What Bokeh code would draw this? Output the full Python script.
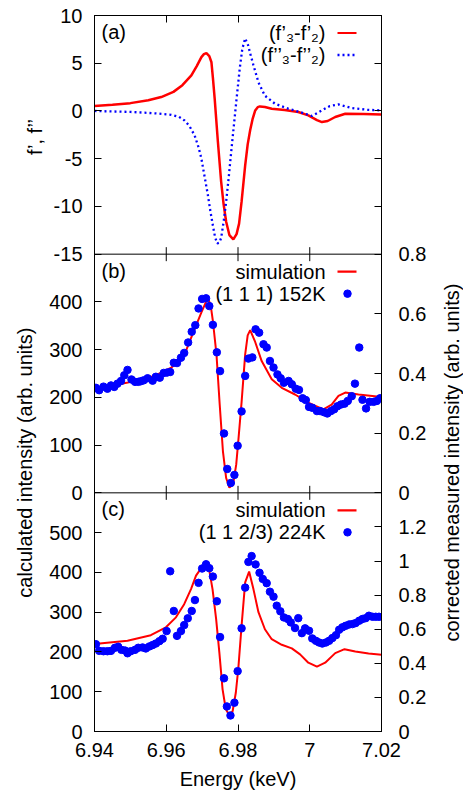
import math
from bokeh.plotting import figure
from bokeh.layouts import row
from bokeh.models import Range1d, LinearAxis, FixedTicker, Label, Span
from bokeh.embed import file_html
from bokeh.resources import INLINE

# ---------------- data ----------------
# panel (a): f' and f'' differences
E_fp = [6.940, 6.945, 6.950, 6.955, 6.9586, 6.962, 6.9645, 6.967, 6.9685, 6.9698,
        6.9705, 6.9712, 6.9720, 6.9726, 6.9730, 6.9735, 6.9744, 6.9753, 6.9760, 6.9767,
        6.9776, 6.9787, 6.9796, 6.9803, 6.9810, 6.9820, 6.9827, 6.9834, 6.9841, 6.9848,
        6.9855, 6.9861, 6.9875, 6.9894, 6.9930, 6.9968, 6.9996, 7.0020, 7.0034, 7.0050,
        7.0071, 7.0099, 7.0150, 7.0200]
fp = [0.52, 0.65, 0.82, 1.12, 1.46, 2.0, 2.7, 3.72, 4.7, 5.64,
      5.95, 6.06, 5.75, 5.1, 3.5, 1.3, -3.25, -7.4, -9.8, -11.6,
      -13.0, -13.45, -12.9, -11.8, -9.5, -5.7, -3.5, -2.0, -0.8, 0.05,
      0.4, 0.48, 0.42, 0.24, 0.10, -0.11, -0.46, -0.95, -1.16, -1.05,
      -0.63, -0.29, -0.32, -0.36]

E_fpp = [6.940, 6.945, 6.950, 6.954, 6.958, 6.9614, 6.9635, 6.9651, 6.9665, 6.9679,
         6.9690, 6.9698, 6.9707, 6.9716, 6.9723, 6.9730, 6.9736, 6.9742, 6.9748, 6.9753,
         6.9760, 6.9767, 6.9774, 6.9781, 6.9788, 6.9795, 6.9805, 6.9812, 6.9820, 6.9828,
         6.9835, 6.9843, 6.9857, 6.9875, 6.9903, 6.9940, 6.9978, 7.0006, 7.0034, 7.0055,
         7.0080, 7.0117, 7.0160, 7.0200]
fpp = [0.0, -0.05, -0.1, -0.18, -0.28, -0.4, -0.6, -1.0, -1.6, -2.55,
       -3.8, -5.0, -6.9, -8.8, -10.5, -12.0, -13.2, -13.88, -13.8, -13.3,
       -11.6, -9.5, -7.0, -4.3, -1.7, 0.9, 4.5, 6.5, 7.6, 6.9,
       5.9, 4.8, 3.0, 1.6, 0.76, 0.24, -0.18, -0.53, 0.06, 0.5,
       0.69, 0.31, 0.12, 0.06]

# panel (b): simulation (left axis) and (1 1 1) 152K data (right axis)
E_bs = [6.940, 6.9493, 6.9567, 6.9614, 6.9651, 6.9679, 6.9698, 6.9712, 6.9718, 6.9724,
        6.9730, 6.9740, 6.9749, 6.9758, 6.9767, 6.9776, 6.9786, 6.9795, 6.9801, 6.9810,
        6.9820, 6.9827, 6.9834, 6.9847, 6.9866, 6.9894, 6.9922, 6.9959, 6.9996, 7.0038,
        7.0061, 7.0080, 7.0099, 7.0136, 7.0200]
sim_b = [217, 231, 245, 262, 290, 343, 378, 402, 405, 392,
         360, 290, 185, 87, 31, 11, 17, 59, 110, 190,
         290, 330, 341, 318, 276, 238, 220, 206, 189, 175,
         185, 203, 210, 206, 201]

E_bd = [6.9404, 6.9413, 6.9425, 6.9436, 6.9446, 6.9455, 6.9464, 6.9474, 6.9483, 6.9492,
        6.9503, 6.9513, 6.9522, 6.9529, 6.9537, 6.9548, 6.9562, 6.9571, 6.9582, 6.9593,
        6.9602, 6.9611, 6.9621, 6.9630, 6.9641, 6.9650, 6.9661, 6.9671, 6.9681, 6.9690,
        6.9700, 6.9711, 6.9720, 6.9730, 6.9741, 6.9750, 6.9761, 6.9770, 6.9780, 6.9790,
        6.9799, 6.9810, 6.9820, 6.9829, 6.9840, 6.9849, 6.9859, 6.9871, 6.9880, 6.9889,
        6.9899, 6.9910, 6.9919, 6.9928, 6.9941, 6.9950, 6.9961, 6.9970, 6.9980, 6.9989,
        6.9998, 7.0007, 7.0020, 7.0029, 7.0040, 7.0049, 7.0059, 7.0068, 7.0077, 7.0087,
        7.0097, 7.0106, 7.0117, 7.0126, 7.0138, 7.0147, 7.0157, 7.0167, 7.0178, 7.0187,
        7.0196]
meas_b = [0.352, 0.344, 0.356, 0.349, 0.360, 0.355, 0.366, 0.375, 0.394, 0.412,
          0.380, 0.372, 0.372, 0.374, 0.377, 0.384, 0.376, 0.389, 0.386, 0.402,
          0.403, 0.405, 0.436, 0.435, 0.453, 0.469, 0.504, 0.540, 0.562, 0.618,
          0.650, 0.652, 0.626, 0.563, 0.471, 0.408, 0.199, 0.080, 0.033, 0.060,
          0.158, 0.273, 0.392, 0.450, 0.454, 0.548, 0.537, 0.498, 0.487, 0.442,
          0.420, 0.397, 0.384, 0.369, 0.375, 0.364, 0.349, 0.345, 0.317, 0.311,
          0.288, 0.285, 0.274, 0.274, 0.270, 0.266, 0.274, 0.280, 0.290, 0.296,
          0.299, 0.308, 0.324, 0.366, 0.487, 0.312, 0.283, 0.305, 0.305, 0.308,
          0.317]

# panel (c): simulation (left axis) and (1 1 2/3) 224K data (right axis)
E_cs = [6.940, 6.9492, 6.9557, 6.9599, 6.9627, 6.9650, 6.9669, 6.9683, 6.9697, 6.9711,
        6.9720, 6.9729, 6.9739, 6.9748, 6.9757, 6.9766, 6.9776, 6.9785, 6.9794, 6.9801,
        6.9810, 6.9820, 6.9831, 6.9843, 6.9857, 6.9875, 6.9894, 6.9922, 6.9950, 6.9973,
        6.9996, 7.0020, 7.0043, 7.0071, 7.0097, 7.0127, 7.0164, 7.0200]
sim_c = [220, 228, 242, 262, 287, 320, 358, 392, 410, 419,
         405, 358, 283, 199, 106, 56, 41, 51, 98, 160,
         266, 375, 402, 358, 300, 257, 232, 218, 209, 194,
         173, 163, 173, 197, 207, 201, 196, 193]

E_cd = [6.9404, 6.9413, 6.9425, 6.9436, 6.9446, 6.9457, 6.9466, 6.9475, 6.9485, 6.9492,
        6.9501, 6.9513, 6.9522, 6.9534, 6.9543, 6.9553, 6.9562, 6.9571, 6.9581, 6.9590,
        6.9601, 6.9611, 6.9621, 6.9630, 6.9641, 6.9650, 6.9660, 6.9671, 6.9680, 6.9690,
        6.9700, 6.9711, 6.9720, 6.9730, 6.9741, 6.9750, 6.9761, 6.9769, 6.9779, 6.9790,
        6.9799, 6.9810, 6.9820, 6.9829, 6.9838, 6.9849, 6.9860, 6.9869, 6.9880, 6.9889,
        6.9899, 6.9908, 6.9918, 6.9928, 6.9939, 6.9947, 6.9959, 6.9968, 6.9978, 6.9987,
        6.9998, 7.0007, 7.0017, 7.0026, 7.0035, 7.0045, 7.0054, 7.0063, 7.0073, 7.0082,
        7.0091, 7.0100, 7.0110, 7.0119, 7.0128, 7.0138, 7.0147, 7.0156, 7.0165, 7.0175,
        7.0184, 7.0193, 7.0203]
meas_c = [0.512, 0.473, 0.471, 0.471, 0.473, 0.491, 0.497, 0.479, 0.475, 0.459,
          0.471, 0.479, 0.491, 0.493, 0.487, 0.499, 0.507, 0.516, 0.530, 0.544,
          0.589, 0.940, 0.707, 0.561, 0.589, 0.624, 0.664, 0.707, 0.771, 0.872,
          0.956, 0.981, 0.958, 0.909, 0.764, 0.554, 0.312, 0.147, 0.094, 0.169,
          0.354, 0.605, 0.844, 0.995, 1.029, 0.980, 0.931, 0.895, 0.870, 0.820,
          0.791, 0.738, 0.705, 0.669, 0.660, 0.640, 0.607, 0.665, 0.577, 0.605,
          0.591, 0.546, 0.532, 0.522, 0.516, 0.522, 0.532, 0.548, 0.565, 0.597,
          0.611, 0.620, 0.628, 0.630, 0.636, 0.650, 0.660, 0.665, 0.679, 0.673,
          0.673, 0.673, 0.673]

# axes / ticks
X_RANGE = (6.94, 7.02)
X_TICKS = [6.94, 6.96, 6.98, 7.00, 7.02]
X_TICK_LABELS = ["6.94", "6.96", "6.98", "7", "7.02"]
A_RANGE = (-15, 10)
A_TICKS = [10, 5, 0, -5, -10, -15]
A_LABELS = ["10", "5", "0", "-5", "-10", "-15"]
B_RANGE = (0, 500)
B_TICKS = [0, 100, 200, 300, 400]
B_LABELS = ["0", "100", "200", "300", "400"]
BR_RANGE = (0, 0.8)
BR_TICKS = [0, 0.2, 0.4, 0.6, 0.8]
BR_LABELS = ["0", "0.2", "0.4", "0.6", "0.8"]
C_RANGE = (0, 600)
C_TICKS = [0, 100, 200, 300, 400, 500]
C_LABELS = ["0", "100", "200", "300", "400", "500"]
CR_RANGE = (0, 1.4)
CR_TICKS = [0, 0.2, 0.4, 0.6, 0.8, 1.0, 1.2]
CR_LABELS = ["0", "0.2", "0.4", "0.6", "0.8", "1", "1.2"]

assert len(E_fp) == len(fp) and len(E_fpp) == len(fpp)
assert len(E_bs) == len(sim_b) and len(E_bd) == len(meas_b)
assert len(E_cs) == len(sim_c) and len(E_cd) == len(meas_c)

# ---------------- layout ----------------
FONT = "Liberation Sans"
FS = "20px"
RED = "#ff0000"
BLUE = "#0000ff"
H = 792
LW_SIDE, RW_SIDE = 46, 38          # side strips holding the rotated axis titles
ML, MR, MT = 46, 46, 15            # borders of the main plot
FW, FH = 287, 716
MB = H - MT - FH
PH = FH / 3.0


def stacked(rng, slot):
    lo, hi = rng
    span = hi - lo
    return Range1d(start=lo - slot * span, end=hi + (2 - slot) * span)


def spos(v, rng, slot):
    lo, hi = rng
    return slot + (v - lo) / (hi - lo)


p = figure(frame_width=FW, frame_height=FH, x_range=Range1d(*X_RANGE), y_range=Range1d(0, 3),
           output_backend="svg", toolbar_location=None,
           min_border_left=ML, min_border_right=MR, min_border_top=MT, min_border_bottom=MB,
           background_fill_color="white", border_fill_color="white",
           outline_line_color="black", outline_line_width=1)
p.title.visible = False
p.xgrid.visible = False
p.ygrid.visible = False

p.extra_y_ranges = {
    "a": stacked(A_RANGE, 2),
    "b": stacked(B_RANGE, 1),
    "br": stacked(BR_RANGE, 1),
    "c": stacked(C_RANGE, 0),
    "cr": stacked(CR_RANGE, 0),
}


def style_axis(ax, standoff):
    ax.major_tick_in = 7
    ax.major_tick_out = 0
    ax.minor_tick_in = 0
    ax.minor_tick_out = 0
    ax.major_tick_line_color = "black"
    ax.axis_line_color = "black"
    ax.major_label_text_font = FONT
    ax.major_label_text_font_size = FS
    ax.major_label_text_color = "black"
    ax.major_label_standoff = standoff


# left axis
left_pos, left_lab = [], []
for vals, labs, rng, slot in [(A_TICKS, A_LABELS, A_RANGE, 2),
                              (B_TICKS, B_LABELS, B_RANGE, 1),
                              (C_TICKS, C_LABELS, C_RANGE, 0)]:
    for v, l in zip(vals, labs):
        left_pos.append(spos(v, rng, slot))
        left_lab.append(l)
yl = p.yaxis[0]
yl.ticker = FixedTicker(ticks=left_pos, minor_ticks=[])
yl.major_label_overrides = dict(zip(left_pos, left_lab))
style_axis(yl, 12)

# right axis
right_pos, right_lab = [], []
for v in A_TICKS[:-1]:
    right_pos.append(spos(v, A_RANGE, 2))
    right_lab.append("")
for vals, labs, rng, slot in [(BR_TICKS, BR_LABELS, BR_RANGE, 1),
                              (CR_TICKS, CR_LABELS, CR_RANGE, 0)]:
    for v, l in zip(vals, labs):
        right_pos.append(spos(v, rng, slot))
        right_lab.append(l)
yr = LinearAxis(ticker=FixedTicker(ticks=right_pos, minor_ticks=[]),
                major_label_overrides=dict(zip(right_pos, right_lab)))
style_axis(yr, 17)
p.add_layout(yr, "right")

# bottom axis
xb = p.xaxis[0]
xb.ticker = FixedTicker(ticks=X_TICKS, minor_ticks=[])
xb.major_label_overrides = dict(zip(X_TICKS, X_TICK_LABELS))
style_axis(xb, 11)
xb.axis_label = "Energy (keV)"
xb.axis_label_text_font = FONT
xb.axis_label_text_font_size = FS
xb.axis_label_text_font_style = "normal"
xb.axis_label_text_color = "black"
xb.axis_label_standoff = 8

# top axis (ticks only)
xt = LinearAxis(ticker=FixedTicker(ticks=X_TICKS, minor_ticks=[]),
                major_label_overrides={t: "" for t in X_TICKS})
style_axis(xt, 0)
xt.major_label_text_font_size = "0px"
p.add_layout(xt, "above")

# panel separators
for loc in (1.0, 2.0):
    p.add_layout(Span(location=loc, dimension="width", line_color="black", line_width=1))

# x ticks on the separators (pointing into both neighbouring panels)
inner_x = X_TICKS[1:-1]
p.scatter(inner_x, [A_RANGE[0]] * len(inner_x), y_range_name="a", marker="dash",
          angle=math.pi / 2, size=14, line_color="black", line_width=1)
p.scatter(inner_x, [B_RANGE[0]] * len(inner_x), y_range_name="b", marker="dash",
          angle=math.pi / 2, size=14, line_color="black", line_width=1)

# ---------------- data glyphs ----------------
p.line(E_fp, fp, y_range_name="a", line_color=RED, line_width=2.5)
p.line(E_fpp, fpp, y_range_name="a", line_color=BLUE, line_width=2.3, line_dash="2 3")
p.line(E_bs, sim_b, y_range_name="b", line_color=RED, line_width=2)
p.scatter(E_bd, meas_b, y_range_name="br", size=7.5, fill_color=BLUE, line_color=BLUE)
p.line(E_cs, sim_c, y_range_name="c", line_color=RED, line_width=2)
p.scatter(E_cd, meas_c, y_range_name="cr", size=7.5, fill_color=BLUE, line_color=BLUE)

# ---------------- legends / labels ----------------
DX = (X_RANGE[1] - X_RANGE[0]) / FW
DY = 1.0 / PH


def txt(fig, text, x, y, xo, yo, align="left", angle=0.0):
    fig.add_layout(Label(x=x, y=y, x_offset=xo, y_offset=yo, text=text,
                         text_font=FONT, text_font_size=FS, text_color="black",
                         text_align=align, text_baseline="middle", angle=angle))


xl, xr = X_RANGE
for top, tag in [(3.0, "(a)"), (2.0, "(b)"), (1.0, "(c)")]:
    txt(p, tag, xl, top, 7, -16.5)

legend_rows = [
    (3.0, "(f’₃-f’₂)", "(f’’₃-f’’₂)", "line", "dotted"),
    (2.0, "simulation", "(1 1 1) 152K", "line", "dot"),
    (1.0, "simulation", "(1 1 2/3) 224K", "line", "dot"),
]
for top, t1, t2, k1, k2 in legend_rows:
    for rown, (t, k) in enumerate([(t1, k1), (t2, k2)]):
        off = 17.5 + rown * 22.0
        txt(p, t, xr, top, -56, -off, align="right")
        yk = top - off * DY
        if k == "line":
            p.line([xr - 44 * DX, xr - 25 * DX], [yk, yk], line_color=RED, line_width=2.2)
        elif k == "dotted":
            p.line([xr - 44 * DX, xr - 25 * DX], [yk, yk], line_color=BLUE,
                   line_width=2.3, line_dash="2 3")
        else:
            p.scatter([xr - 34 * DX], [yk], size=7.5, fill_color=BLUE, line_color=BLUE)


# side strips with the rotated axis titles (same vertical scale as the panels)
def side_strip(width):
    f = figure(width=width, height=H, x_range=Range1d(0, width),
               y_range=Range1d(-MB / PH, 3 + MT / PH),
               x_axis_type=None, y_axis_type=None,
               output_backend="svg", toolbar_location=None,
               min_border_left=0, min_border_right=0, min_border_top=0, min_border_bottom=0,
               background_fill_color="white", border_fill_color="white",
               outline_line_color=None)
    f.title.visible = False
    f.xgrid.visible = False
    f.ygrid.visible = False
    return f


sl = side_strip(LW_SIDE)
txt(sl, "f’, f’’", 34.5, 2.5, 0, 0, align="center", angle=math.pi / 2)
txt(sl, "calculated intensity (arb. units)", 24.0, 1.0, 0, -2, align="center",
    angle=math.pi / 2)

sr = side_strip(RW_SIDE)
txt(sr, "corrected measured intensity (arb. units)", 22.5, 1.0, 0, -2, align="center",
    angle=math.pi / 2)

layout = row(sl, p, sr)
open("out.html", "w").write(file_html(layout, INLINE))
